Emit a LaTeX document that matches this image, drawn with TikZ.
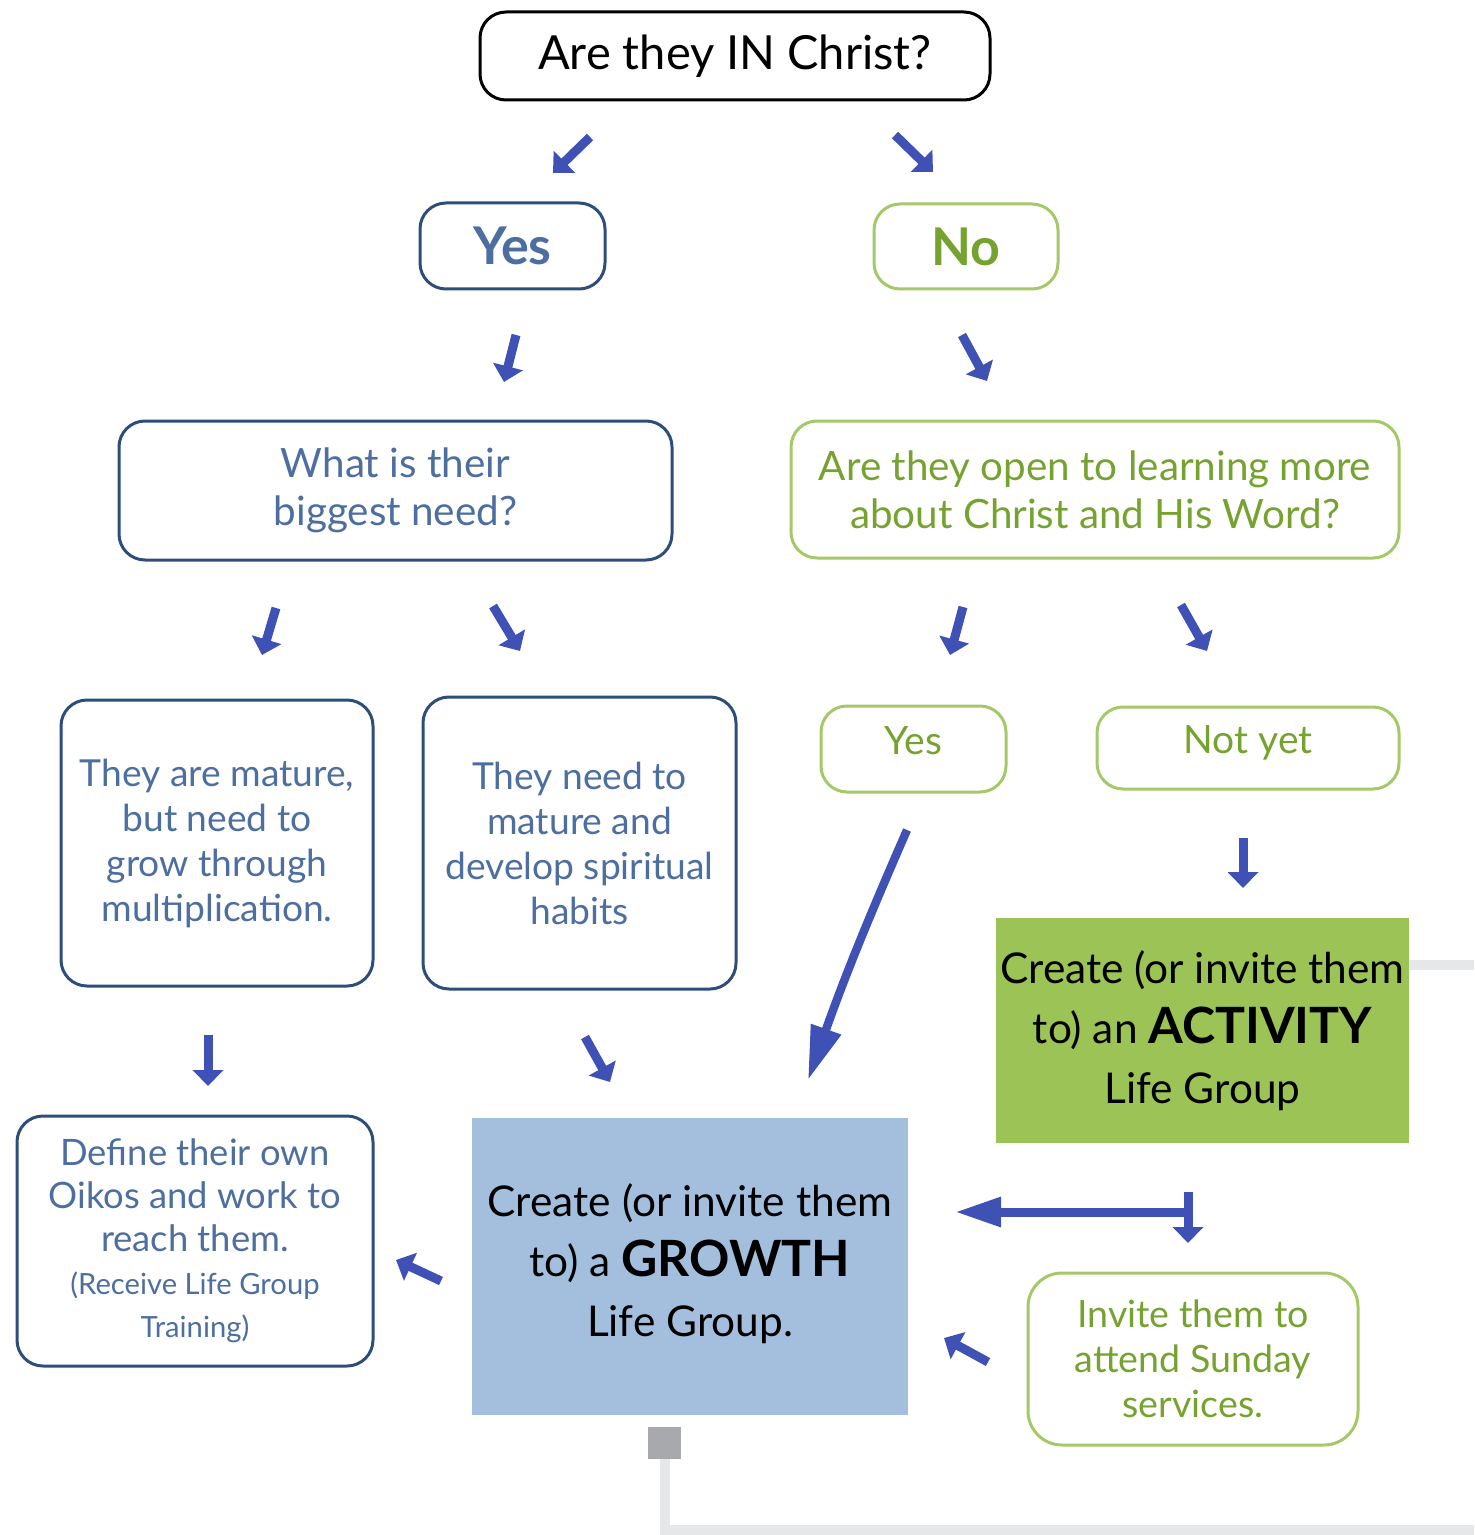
\documentclass[tikz,border=0pt]{standalone}
\usepackage{fontspec}
\setmainfont{Lato}
\usepackage{tikz}
\usetikzlibrary{positioning,arrows.meta}

\definecolor{blueline}{RGB}{45,78,122}
\definecolor{bluetext}{RGB}{77,110,160}
\definecolor{greenline}{RGB}{165,200,105}
\definecolor{greentext}{RGB}{118,163,48}
\definecolor{arrowblue}{RGB}{63,81,181}
\definecolor{actfill}{RGB}{155,195,85}
\definecolor{growfill}{RGB}{163,191,221}
\definecolor{trackgray}{RGB}{230,231,232}
\definecolor{stopgray}{RGB}{167,169,172}

\begin{document}
\begin{tikzpicture}[x=0.5pt,y=-0.5pt]
            \tikzstyle{roundbox}=[rounded corners=13pt, line width=1.5pt, align=center, inner sep=0pt]
            \tikzstyle{bluebox}=[roundbox, draw=blueline, text=bluetext]
            \tikzstyle{greenbox}=[roundbox, draw=greenline, text=greentext]
            \tikzstyle{fillbox}=[align=center, inner sep=0pt, text=black]
            \tikzstyle{pointer}=[draw=arrowblue, line width=4.5pt, -{Triangle[width=15pt,length=8pt]}]
            \tikzstyle{bigpointer}=[draw=arrowblue, line width=4.5pt, -{Triangle[width=14pt,length=23pt]}]
            \tikzstyle{track}=[draw=trackgray, line width=5pt]

            \useasboundingbox (0,0) rectangle (1474,1535);

            % light tracks behind
            \coordinate (trackA) at (1409,965);
            \coordinate (trackB) at (1474,965);
            \coordinate (trackC) at (665,1459);
            \coordinate (trackD) at (665,1530);
            \coordinate (trackE) at (1474,1530);
            \draw[track] (trackA) -- (trackB);
            \draw[track] (trackC) -- (trackD) -- (trackE);
            \node[fill=stopgray, minimum width=16.5pt, minimum height=16pt, inner sep=0pt] (stop) at (664.5,1443) {};

            % question
            \node[roundbox, draw=black, minimum width=255pt, minimum height=44pt, font=\fontsize{23.5}{28}\selectfont] (question) at (735,56) {Are they IN Christ?};
            \node[bluebox, minimum width=92.5pt, minimum height=43pt, font=\fontsize{26}{30}\selectfont\bfseries] (yes) at (512.5,246) {Yes};
            \node[greenbox, minimum width=92pt, minimum height=42.5pt, font=\fontsize{26}{30}\selectfont\bfseries] (no) at (966,246.5) {No};

            % second level
            \node[bluebox, minimum width=276.5pt, minimum height=69.5pt, font=\fontsize{20.2}{24}\selectfont] (need) at (395.5,490.5) {What is their\\biggest need?};
            \node[greenbox, minimum width=304pt, minimum height=68.5pt, font=\fontsize{20.2}{24}\selectfont] (open) at (1095,489.5) {Are they open to learning more\\about Christ and His Word?};

            % third level
            \node[bluebox, minimum width=156pt, minimum height=143pt, font=\fontsize{18.6}{22.5}\selectfont] (mature) at (217,843) {They are mature,\\but need to\\grow through\\multiplication.};
            \node[bluebox, minimum width=156.5pt, minimum height=146pt, font=\fontsize{18.6}{22.5}\selectfont] (develop) at (579.5,843) {They need to\\mature and\\develop spiritual\\habits};
            \node[greenbox, minimum width=92.5pt, minimum height=43pt, text depth=8pt, font=\fontsize{19.5}{22}\selectfont] (openyes) at (913.5,749) {Yes};
            \node[greenbox, minimum width=151pt, minimum height=41pt, text depth=8pt, font=\fontsize{19.5}{22}\selectfont] (notyet) at (1248,748) {Not yet};

            % groups
            \node[fillbox, fill=actfill, minimum width=206.5pt, minimum height=112.5pt, font=\fontsize{21.2}{30}\selectfont] (activity) at (1202.5,1030.5) {Create (or invite them\\to) an {\fontsize{25}{30}\selectfont\bfseries ACTIVITY}\\Life Group};
            \node[fillbox, fill=growfill, minimum width=218pt, minimum height=148.5pt, text depth=6pt, font=\fontsize{21.2}{30}\selectfont] (growth) at (690,1266.5) {Create (or invite them\\to) a {\fontsize{25}{30}\selectfont\bfseries GROWTH}\\Life Group.};
            \node[bluebox, minimum width=178pt, minimum height=125pt, font=\fontsize{18.2}{21.5}\selectfont] (oikos) at (195,1241) {Define their own\\Oikos and work to\\reach them.\\{\fontsize{14.6}{21.5}\selectfont(Receive Life Group}\\{\fontsize{14.6}{21.5}\selectfont Training)}};
            \node[greenbox, rounded corners=17pt, minimum width=165pt, minimum height=86pt, font=\fontsize{18.8}{22.5}\selectfont] (sunday) at (1193,1359) {Invite them to\\attend Sunday\\services.};

            % small pointers
            \foreach \n/\sx/\sy/\ex/\ey in {
                pa/590/137/553/173, pb/895/135/933/172,
                pc/516/335/504/382, pd/962/335/987/381,
                pe/276/608/262/655, pf/493/606/520/651,
                pg/963/607/950/655, ph/1181/605/1207/651,
                pi/1243/838/1243/888, pj/208/1035/208/1086,
                pk/585/1037/610/1082, pl/441/1281/396/1260,
                pm/988/1362/944/1338}
            {
                \coordinate (\n s) at (\sx,\sy);
                \coordinate (\n e) at (\ex,\ey);
                \draw[pointer] (\n s) -- (\n e);
            }

            % long pointer from Yes to growth
            \coordinate (longs) at (907,830);
            \coordinate (longe) at (808,1080);
            \draw[draw=arrowblue, line width=4.2pt, -{Triangle[width=15pt,length=27pt]}] (longs) to[bend right=2] (longe);

            % two way pointer
            \coordinate (fork) at (1193,1212);
            \coordinate (forkl) at (955,1212);
            \coordinate (forkt) at (1188,1192);
            \coordinate (forkb) at (1188,1243);
            \draw[bigpointer] (fork) -- (forkl);
            \draw[pointer] (forkt) -- (forkb);
        \end{tikzpicture}
\end{document}
